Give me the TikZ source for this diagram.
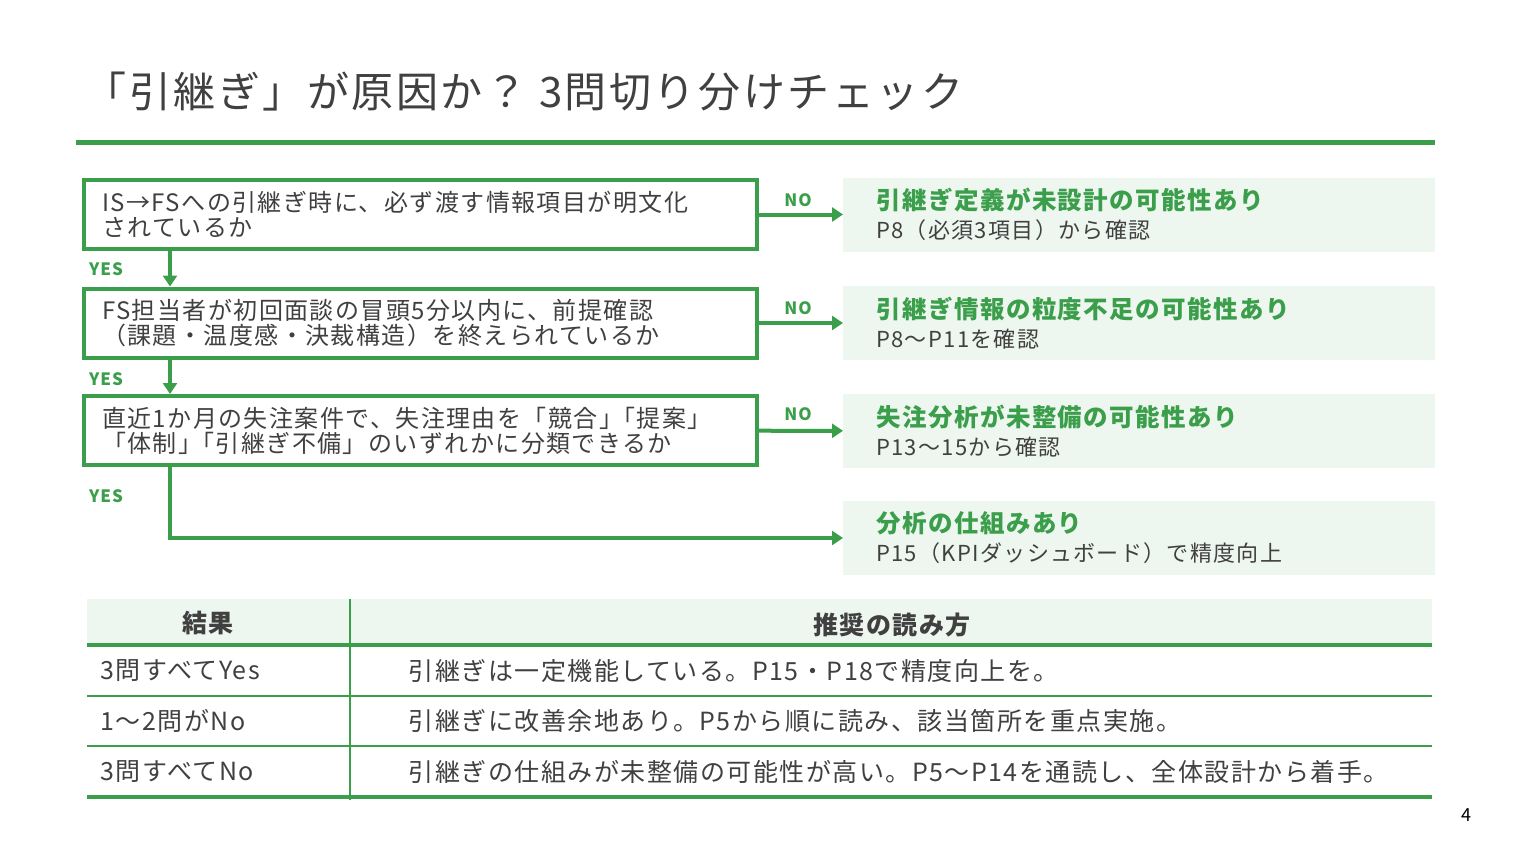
\documentclass[tikz,border=0pt]{standalone}
\usepackage{fontspec}
\setmainfont{Noto Sans CJK JP}[LetterSpace=6]
\usetikzlibrary{arrows.meta,positioning}
\definecolor{kgreen}{RGB}{58,158,74}
\definecolor{kfill}{RGB}{237,246,239}
\definecolor{ktext}{RGB}{64,64,64}
\tikzset{
  qbox/.style={draw=kgreen, line width=4pt, minimum width=673pt, minimum height=69pt,
    text width=637pt, align=left, inner xsep=18pt, text=ktext,
    font=\fontsize{24}{25}\selectfont},
  rbox/.style={fill=kfill, minimum width=592pt, minimum height=74pt, anchor=west,
    text width=526pt, align=left, inner xsep=33pt, font=\fontsize{22}{29}\selectfont},
  flow/.style={draw=kgreen, line width=4pt, -{Triangle[length=11pt,width=14pt]}},
  tag/.style={text=kgreen, font=\bfseries\fontsize{17}{17}\selectfont},
  cell/.style={anchor=west, text=ktext, font=\fontsize{25}{25}\selectfont},
}
\newcommand{\rtitle}[1]{{\color{kgreen}\bfseries\fontsize{24.5}{29}\selectfont #1}}
\newcommand{\rsub}[1]{\\{\color{ktext}#1}}
\newcommand{\kk}{\kern-12pt}
\begin{document}
\begin{tikzpicture}[x=1pt,y=-1pt]
\useasboundingbox (0,0) rectangle (1518,852);

\node[anchor=west, text=ktext, font=\fontsize{42}{42}\selectfont] (title) at (81,92)
  {「引継ぎ」が原因か？ 3問切り分けチェック};
\draw[kgreen, line width=5pt] (76,142) -- (1435,142);

\node[qbox] (q1) at (420.5,214.5) {IS→FSへの引継ぎ時に、必ず渡す情報項目が明文化\\されているか};
\node[qbox] (q2) at (420.5,323) {FS担当者が初回面談の冒頭5分以内に、前提確認\\（課題・温度感・決裁構造）を終えられているか};
\node[qbox] (q3) at (420.5,430.5) {直近1か月の失注案件で、失注理由を「競合」\kk「提案」\\「体制」\kk「引継ぎ不備」のいずれかに分類できるか};

\node[rbox] (r1) at (843,214.5) {\rtitle{引継ぎ定義が未設計の可能性あり}\rsub{P8（必須3項目）から確認}};
\node[rbox] (r2) at (843,323) {\rtitle{引継ぎ情報の粒度不足の可能性あり}\rsub{P8～P11を確認}};
\node[rbox] (r3) at (843,431) {\rtitle{失注分析が未整備の可能性あり}\rsub{P13～15から確認}};
\node[rbox] (r4) at (843,538) {\rtitle{分析の仕組みあり}\rsub{P15（KPIダッシュボード）で精度向上}};

\coordinate (yescol) at (170,0);
\draw[flow] (q1) -- (r1);
\draw[flow] (q2) -- (r2);
\draw[flow] (q3) -- (r3);
\draw[flow] (q1.south -| yescol) -- (q2.north -| yescol);
\draw[flow] (q2.south -| yescol) -- (q3.north -| yescol);
\draw[flow] (q3.south -| yescol) |- (r4.west);

\node[tag] (no1) at (798,200) {NO};
\node[tag] (no2) at (798,308) {NO};
\node[tag] (no3) at (798,414) {NO};
\node[tag] (yes1) at (106,269) {YES};
\node[tag] (yes2) at (106,379) {YES};
\node[tag] (yes3) at (106,496) {YES};

% table
\fill[kfill] (87,599) rectangle (1432,645);
\draw[kgreen, line width=2pt] (350,599) -- (350,800);
\draw[kgreen, line width=4pt] (87,645) -- (1432,645);
\draw[kgreen, line width=2pt] (87,696) -- (1432,696);
\draw[kgreen, line width=2pt] (87,746) -- (1432,746);
\draw[kgreen, line width=4pt] (87,797) -- (1432,797);
\node[text=ktext, font=\bfseries\fontsize{25}{25}\selectfont] (h1) at (208,623) {結果};
\node[text=ktext, font=\bfseries\fontsize{25}{25}\selectfont] (h2) at (892,625) {推奨の読み方};
\node[cell] (a1) at (97,671) {3問すべてYes};
\node[cell] (a2) at (97,721) {1～2問がNo};
\node[cell] (a3) at (97,772) {3問すべてNo};
\node[cell] (b1) at (405,671) {引継ぎは一定機能している。P15・P18で精度向上を。};
\node[cell] (b2) at (405,721) {引継ぎに改善余地あり。P5から順に読み、該当箇所を重点実施。};
\node[cell] (b3) at (405,772) {引継ぎの仕組みが未整備の可能性が高い。P5～P14を通読し、全体設計から着手。};

\node[text=black, font=\fontsize{18}{18}\selectfont] (page) at (1466,815) {4};
\end{tikzpicture}
\end{document}
